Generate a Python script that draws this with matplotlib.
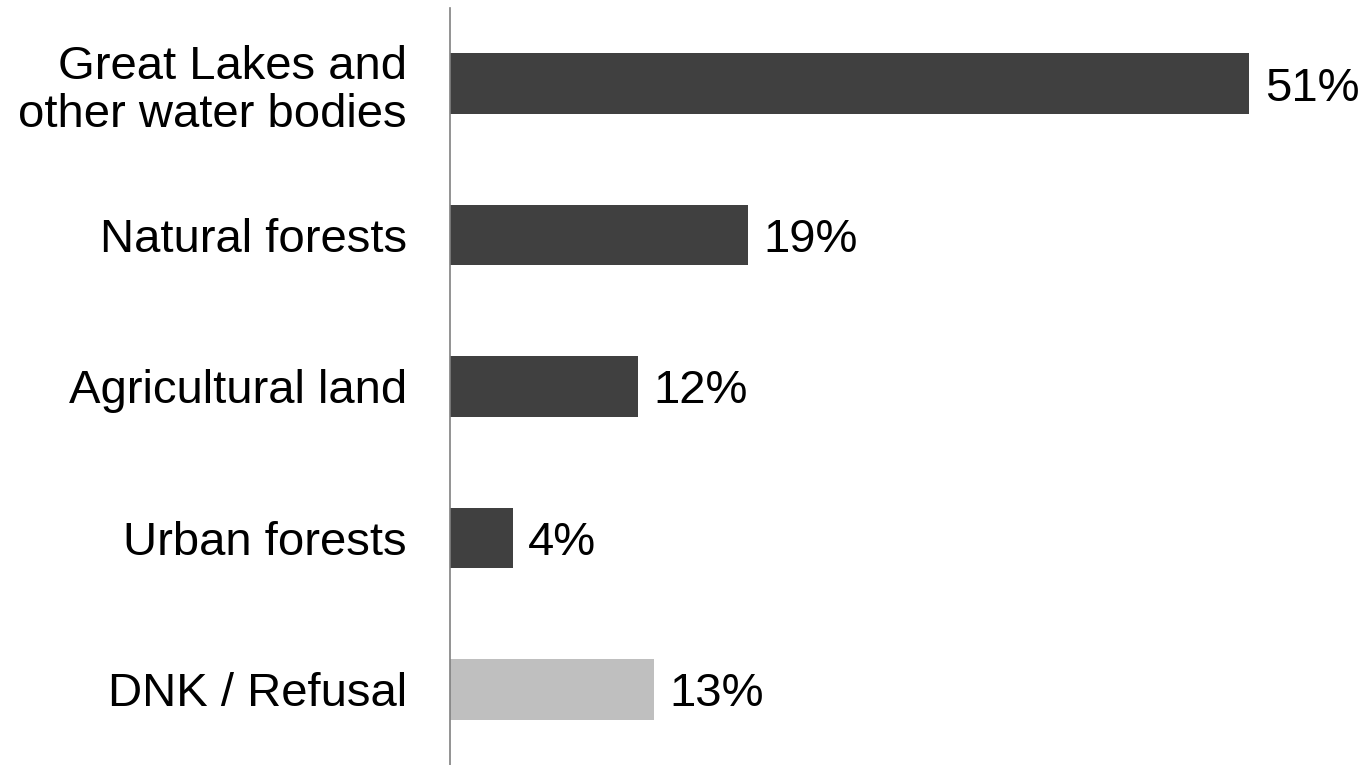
import matplotlib.pyplot as plt

plt.rcParams['font.family'] = ['Liberation Sans', 'DejaVu Sans']

# Data
categories = ['Great Lakes and\nother water bodies', 'Natural forests',
              'Agricultural land', 'Urban forests', 'DNK / Refusal']
values = [51, 19, 12, 4, 13]
colors = ['#404040', '#404040', '#404040', '#404040', '#bfbfbf']

fig = plt.figure(figsize=(13.67, 7.65), dpi=100)
ax = fig.add_axes([450 / 1367, 0.0, 1 - 450 / 1367, 757 / 765])

pos = list(range(len(categories)))
ax.barh(pos, values, height=0.4, color=colors)

for p, v in zip(pos, values):
    ax.text(v + 1, p, f'{v}%', va='center_baseline', ha='left', fontsize=34, color='#000000')

ax.set_yticks(pos)
ax.set_yticklabels(categories, fontsize=34, linespacing=1.12)
for lbl in ax.get_yticklabels():
    lbl.set_verticalalignment('center_baseline')
ax.tick_params(axis='y', length=0, pad=31)
ax.set_xticks([])
ax.set_xlim(0, (1367 - 450) / 15.67)
ax.set_ylim(4.5, -0.5)

for s in ['top', 'right', 'bottom']:
    ax.spines[s].set_visible(False)
ax.spines['left'].set_color('#808080')
ax.spines['left'].set_linewidth(1.2)

fig.savefig('out.png', dpi=100)
